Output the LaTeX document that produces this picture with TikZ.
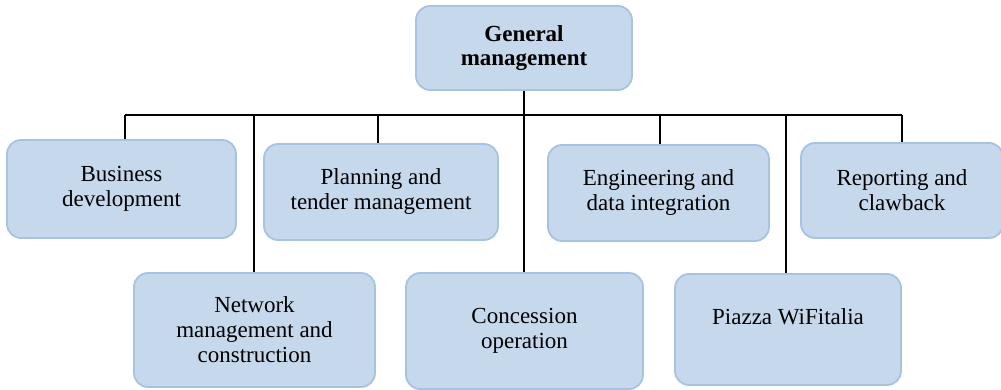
\documentclass[tikz,border=0pt]{standalone}
\usepackage{fontspec}
\setmainfont{Liberation Serif}
\definecolor{boxfill}{RGB}{197,216,236}
\definecolor{boxline}{RGB}{168,194,226}
\begin{document}
\begin{tikzpicture}[x=1pt,y=-1pt,
  unit/.style={draw=boxline, fill=boxfill, line width=1.8pt, rounded corners=14pt,
    align=center, inner sep=0pt, font=\fontsize{23}{25}\selectfont},
  link/.style={line width=2pt, black}]
  \useasboundingbox (0,0) rectangle (1001,390);
  % head unit
  \node[unit, minimum width=216, minimum height=84,
        font=\fontsize{23}{24.5}\selectfont\bfseries] (gm) at (524,48) {General\\management};
  % upper row
  \node[unit, minimum width=229, minimum height=98] (bd) at (121.5,189) {Business\\development};
  \node[unit, minimum width=234, minimum height=96] (plan) at (381,192) {Planning and\\tender management};
  \node[unit, minimum width=221, minimum height=96] (eng) at (658.5,193) {Engineering and\\data integration};
  \node[unit, minimum width=202, minimum height=95] (rep) at (902,190.5) {Reporting and\\clawback};
  % lower row
  \node[unit, minimum width=241, minimum height=114] (net) at (254.5,330) {Network\\management and\\construction};
  \node[unit, minimum width=237, minimum height=116] (conc) at (524.5,331) {Concession\\operation};
  \node[unit, minimum width=226, minimum height=111] (pz) at (788,329.5) {Piazza WiFitalia\\\mbox{}};
  % taps on the horizontal bus
  \coordinate (t1) at (125,115);
  \coordinate (t2) at (254,115);
  \coordinate (t3) at (378,115);
  \coordinate (t5) at (660,115);
  \coordinate (t6) at (786,115);
  \coordinate (t7) at (902,115);
  \draw[link] (t1) -- (t7);
  \draw[link] (gm.south) -- (gm.south |- conc.north);
  \draw[link] (t1) -- (t1 |- bd.north);
  \draw[link] (t2) -- (t2 |- net.north);
  \draw[link] (t3) -- (t3 |- plan.north);
  \draw[link] (t5) -- (t5 |- eng.north);
  \draw[link] (t6) -- (t6 |- pz.north);
  \draw[link] (t7) -- (t7 |- rep.north);
\end{tikzpicture}
\end{document}
